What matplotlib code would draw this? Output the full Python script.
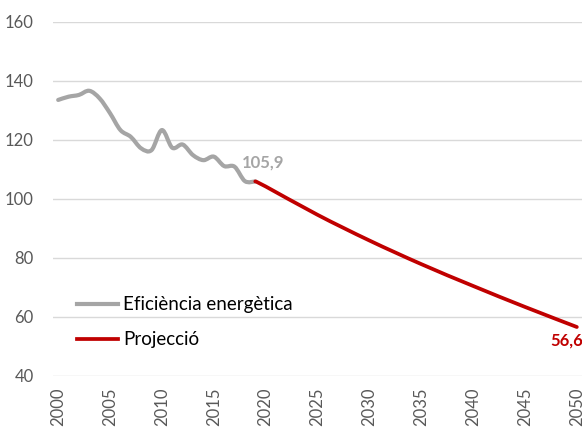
import numpy as np
import matplotlib
matplotlib.use("Agg")
import matplotlib.pyplot as plt
from matplotlib.path import Path
from matplotlib.patches import PathPatch
from matplotlib.lines import Line2D

# historical series
years_hist = list(range(2000, 2020))
eff_hist = [133.5, 134.6, 135.2, 136.6, 134.0, 129.0, 123.3, 121.0, 117.1, 116.5,
            123.3, 117.3, 118.4, 114.8, 113.1, 114.3, 111.1, 110.9, 106.0, 105.9]

# projection
years_proj = [2019, 2020, 2025, 2030, 2035, 2040, 2045, 2050]
eff_proj = [105.9, 104.2, 94.6, 85.9, 77.9, 70.5, 63.4, 56.6]

xticks = list(range(2000, 2051, 5))
yticks = [40, 60, 80, 100, 120, 140, 160]

gray = "#A5A5A5"
red = "#C00000"
txt = "#595959"
plt.rcParams['font.family'] = ['Lato', 'DejaVu Sans']


def smooth_path(x, y):
    # excel style smoothed line: catmull-rom converted to bezier
    pts = np.column_stack([x, y]).astype(float)
    verts = [pts[0]]
    codes = [Path.MOVETO]
    for i in range(len(pts) - 1):
        p0 = pts[i - 1] if i > 0 else pts[i]
        p1 = pts[i]
        p2 = pts[i + 1]
        p3 = pts[i + 2] if i + 2 < len(pts) else pts[i + 1]
        verts += [p1 + (p2 - p0) / 6, p2 - (p3 - p1) / 6, p2]
        codes += [Path.CURVE4] * 3
    return Path(verts, codes)


fig = plt.figure(figsize=(5.82, 4.28), dpi=100)
ax = fig.add_axes([53 / 582, 1 - 376 / 428, 1 - 53 / 582, (376 - 21.7) / 428])

ax.add_patch(PathPatch(smooth_path(years_hist, eff_hist), fill=False, edgecolor=gray,
                       lw=3.0, capstyle='round', joinstyle='round', zorder=3))
ax.add_patch(PathPatch(smooth_path(years_proj, eff_proj), fill=False, edgecolor=red,
                       lw=2.7, capstyle='round', joinstyle='round', zorder=4))

ax.set_xlim(1999.5, 2050.5)
ax.set_ylim(40, 160)
ax.set_xticks(xticks)
ax.set_xticklabels([str(v) for v in xticks], rotation=90, va='top')
ax.set_yticks(yticks)
ax.tick_params(axis='both', length=0, labelsize=12, labelcolor=txt)
ax.tick_params(axis='y', pad=14)
ax.tick_params(axis='x', pad=8)
ax.grid(axis='y', color="#D9D9D9", lw=1)
ax.set_axisbelow(True)
for s in ax.spines.values():
    s.set_visible(False)

ax.annotate("105,9", (years_hist[-1], eff_hist[-1]), xytext=(-10, 8),
            textcoords='offset points', color=gray, fontsize=12, fontweight='bold',
            ha='left', va='bottom')
ax.annotate("56,6", (years_proj[-1], eff_proj[-1]), xytext=(-19, -10),
            textcoords='offset points', color=red, fontsize=12, fontweight='bold',
            ha='left', va='center')

handles = [Line2D([], [], color=gray, lw=3.0),
           Line2D([], [], color=red, lw=2.7)]
ax.legend(handles, ["Eficiència energètica", "Projecció"], loc='upper left',
          bbox_to_anchor=(0.0454, 0.225), frameon=False, fontsize=13.5,
          borderaxespad=0, borderpad=0,
          handlelength=2.19, handletextpad=0.27, labelspacing=0.97, labelcolor='black')

fig.savefig("out.png", dpi=100)
